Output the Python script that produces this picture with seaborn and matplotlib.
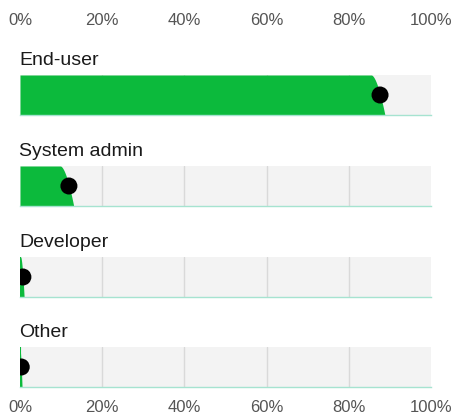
import numpy as np
import matplotlib
matplotlib.use("Agg")
import matplotlib.pyplot as plt
import seaborn as sns

# data (share of respondents, %)
roles = ["End-user", "System admin", "Developer", "Other"]
shares = [87.6, 11.9, 0.7, 0.3]
tick_values = [0, 20, 40, 60, 80, 100]
tick_labels = ["0%", "20%", "40%", "60%", "80%", "100%"]

GREEN = "#0cba3c"
BG = "#f3f3f3"
GRID = "#d9d9d9"
MINT = "#a6e3d0"

sns.set_style("white")
plt.rcParams["font.family"] = ["Liberation Sans", "DejaVu Sans"]

W, H = 456, 419
fig = plt.figure(figsize=(W / 100, H / 100), dpi=100)

left, right = 20, 431
bar_tops = [75, 166, 257, 347]
bar_h = 40

for i, (role, v) in enumerate(zip(roles, shares)):
    top = bar_tops[i]
    ax = fig.add_axes([left / W, 1 - (top + bar_h) / H, (right - left) / W, bar_h / H])
    ax.set_facecolor(BG)
    ax.set_xlim(0, 100)
    ax.set_ylim(0, 1)

    for g in tick_values[1:-1]:
        ax.axvline(g, color=GRID, lw=1, zorder=1)

    # green area with a soft uncertainty edge around the estimate
    s = np.sqrt(v / 100 * (1 - v / 100))
    a, b = 6.4 * s, 3.6 * s
    t = np.linspace(0, 1, 200)
    edge = np.clip(v - a + (a + b) * t ** 0.6, 0, 100)
    y = 1 - t
    ax.fill_betweenx(y, 0, edge, color=GREEN, lw=0, zorder=2)
    if v < 1:
        ax.axvline(0, color=GREEN, lw=1.5, zorder=2)

    sns.scatterplot(x=[v], y=[0.5], ax=ax, color="black", s=150,
                    edgecolor="none", zorder=4)
    ax.collections[-1].set_clip_on(True)
    ax.collections[-1].set_clip_box(ax.bbox)

    for sp in ["top", "left", "right"]:
        ax.spines[sp].set_visible(False)
    ax.spines["bottom"].set_color(MINT)
    ax.spines["bottom"].set_linewidth(1)
    ax.set_yticks([])
    ax.set_xticks(tick_values)
    ax.set_xticklabels(tick_labels)
    ax.tick_params(length=0, labelsize=12, labelcolor="#555555")
    if i == 0:
        ax.tick_params(top=False, labeltop=True, bottom=False, labelbottom=False, pad=34)
    elif i == len(roles) - 1:
        ax.tick_params(pad=9)
    else:
        ax.tick_params(labelbottom=False)

    ax.annotate(role, xy=(0, 1), xycoords="axes fraction", xytext=(-1, 10),
                textcoords="offset pixels", ha="left", va="baseline",
                fontsize=14, color="#1a1a1a")

fig.savefig("out.png", dpi=100)
